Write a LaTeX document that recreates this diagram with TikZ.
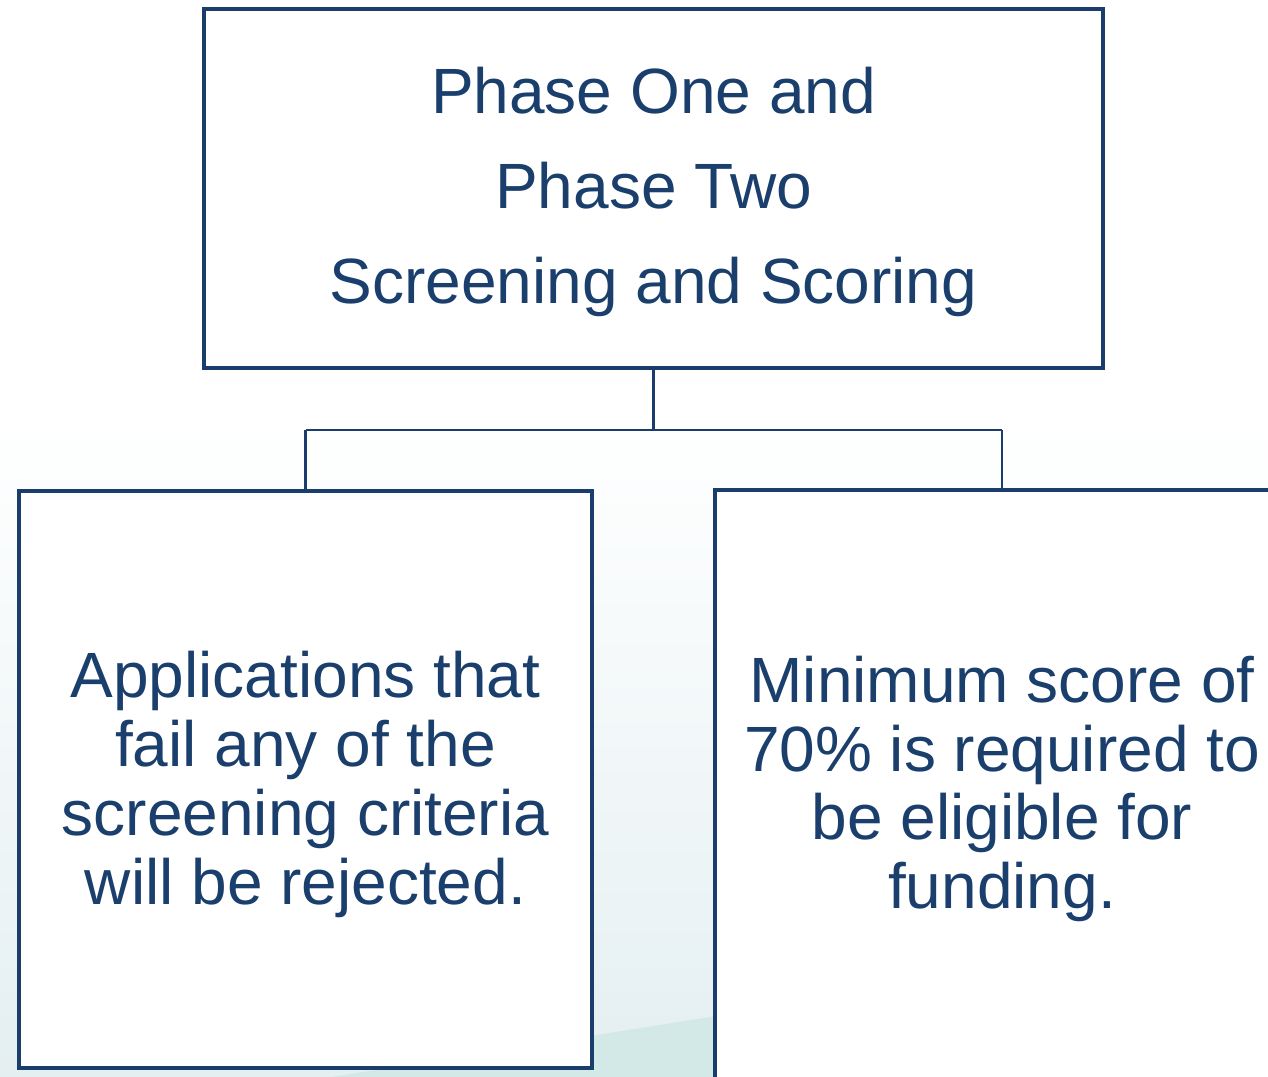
\documentclass[tikz,border=0pt]{standalone}
\usepackage{fontspec}
\setmainfont{Liberation Sans}
\definecolor{navy}{HTML}{1B3D6B}
\definecolor{textnavy}{HTML}{1A3F6C}
\definecolor{bgbot}{HTML}{E4EFF2}
\definecolor{teal1}{HTML}{D3E9E7}
\begin{document}
\begin{tikzpicture}[x=1pt,y=-1pt,
  box/.style={draw=navy,line width=4pt,fill=white,inner sep=0pt,outer sep=0pt},
  txt/.style={text=textnavy,align=center,inner sep=0pt},
  conn/.style={draw=navy,line width=2.5pt}]
\useasboundingbox (0,0) rectangle (1268,1076);
% background
\shade[top color=white,bottom color=bgbot] (0,420) rectangle (1268,1076);
\fill[teal1] (300,1082) -- (760,1009) -- (760,1082) -- cycle;
% boxes
\node[box,minimum width=899pt,minimum height=359pt] (top) at (653.5,188.5) {};
\node[box,minimum width=573pt,minimum height=577pt] (left) at (305.5,779.5) {};
\node[box,minimum width=574pt,minimum height=592pt] (right) at (1002,786) {};
% texts
\node[txt,font=\fontsize{64}{95}\selectfont] (toptext) at ([yshift=-3pt]top.center)
  {Phase One and\\Phase Two\\Screening and Scoring};
\node[txt,font=\fontsize{64}{69}\selectfont] (lefttext) at ([yshift=-5pt]left.center)
  {Applications that\\fail any of the\\screening criteria\\will be rejected.};
\node[txt,font=\fontsize{64}{68.5}\selectfont] (righttext) at ([yshift=-3pt]right.center)
  {Minimum score of\\70\% is required to\\be eligible for\\funding.};
% connectors
\coordinate (bus) at (653.5,430);
\draw[conn] (top.south) -- (bus);
\draw[conn] (bus -| left.north) -- (bus -| right.north);
\draw[conn] (bus -| left.north) -- (left.north);
\draw[conn] (bus -| right.north) -- (right.north);
\end{tikzpicture}
\end{document}
